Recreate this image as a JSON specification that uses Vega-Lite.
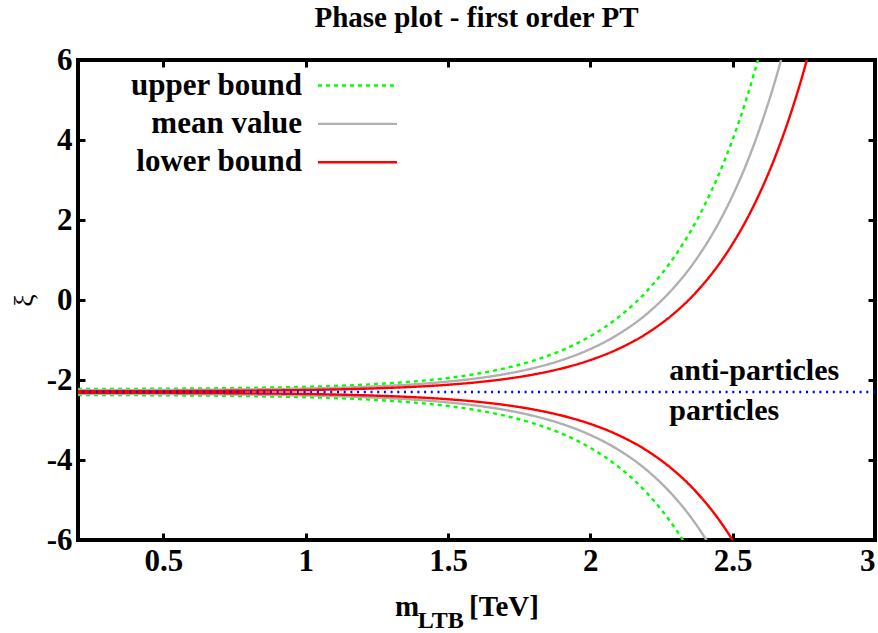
{
  "$schema": "https://vega.github.io/schema/vega-lite/v6.json",
  "width": 797,
  "height": 480,
  "autosize": {"type": "none"},
  "padding": {"left": 78, "top": 60, "right": 3, "bottom": 93},
  "background": "white",
  "title": {"text": "Phase plot - first order PT", "font": "Liberation Serif", "fontSize": 29, "fontWeight": "bold", "color": "black", "anchor": "middle", "frame": "group", "offset": 11},
  "config": {
    "view": {"stroke": "black", "strokeWidth": 4},
    "axis": {"domain": false, "grid": false, "ticks": true, "tickSize": -7, "tickWidth": 3, "tickColor": "black", "labelFont": "Liberation Serif", "labelFontSize": 31, "labelFontWeight": "bold", "labelColor": "black", "labelPadding": 13, "labelFlush": false, "labelOverlap": false, "labelExpr": "toString(datum.value)", "titleFont": "Liberation Serif", "titleColor": "black"}
  },
  "datasets": {
    "curves": [
      {"s": "upper bound", "b": "up", "x": 0.2, "y": -2.225}, {"s": "upper bound", "b": "up", "x": 0.4, "y": -2.221}, {"s": "upper bound", "b": "up", "x": 0.6, "y": -2.213}, {"s": "upper bound", "b": "up", "x": 0.8, "y": -2.198}, {"s": "upper bound", "b": "up", "x": 1.0, "y": -2.17}, {"s": "upper bound", "b": "up", "x": 1.2, "y": -2.119}, {"s": "upper bound", "b": "up", "x": 1.4, "y": -2.024}, {"s": "upper bound", "b": "up", "x": 1.5, "y": -1.949}, {"s": "upper bound", "b": "up", "x": 1.6, "y": -1.846}, {"s": "upper bound", "b": "up", "x": 1.7, "y": -1.707}, {"s": "upper bound", "b": "up", "x": 1.8, "y": -1.517}, {"s": "upper bound", "b": "up", "x": 1.9, "y": -1.258}, {"s": "upper bound", "b": "up", "x": 2.0, "y": -0.905}, {"s": "upper bound", "b": "up", "x": 2.1, "y": -0.423}, {"s": "upper bound", "b": "up", "x": 2.2, "y": 0.234}, {"s": "upper bound", "b": "up", "x": 2.3, "y": 1.13}, {"s": "upper bound", "b": "up", "x": 2.35, "y": 1.692}, {"s": "upper bound", "b": "up", "x": 2.4, "y": 2.351}, {"s": "upper bound", "b": "up", "x": 2.45, "y": 3.118}, {"s": "upper bound", "b": "up", "x": 2.5, "y": 4.016}, {"s": "upper bound", "b": "up", "x": 2.55, "y": 5.063}, {"s": "upper bound", "b": "up", "x": 2.6, "y": 6.287},
      {"s": "upper bound", "b": "lo", "x": 0.2, "y": -2.375}, {"s": "upper bound", "b": "lo", "x": 0.4, "y": -2.379}, {"s": "upper bound", "b": "lo", "x": 0.6, "y": -2.387}, {"s": "upper bound", "b": "lo", "x": 0.8, "y": -2.402}, {"s": "upper bound", "b": "lo", "x": 1.0, "y": -2.43}, {"s": "upper bound", "b": "lo", "x": 1.2, "y": -2.481}, {"s": "upper bound", "b": "lo", "x": 1.4, "y": -2.576}, {"s": "upper bound", "b": "lo", "x": 1.5, "y": -2.651}, {"s": "upper bound", "b": "lo", "x": 1.6, "y": -2.754}, {"s": "upper bound", "b": "lo", "x": 1.7, "y": -2.893}, {"s": "upper bound", "b": "lo", "x": 1.8, "y": -3.083}, {"s": "upper bound", "b": "lo", "x": 1.9, "y": -3.342}, {"s": "upper bound", "b": "lo", "x": 2.0, "y": -3.695}, {"s": "upper bound", "b": "lo", "x": 2.1, "y": -4.177}, {"s": "upper bound", "b": "lo", "x": 2.2, "y": -4.834}, {"s": "upper bound", "b": "lo", "x": 2.3, "y": -5.73}, {"s": "upper bound", "b": "lo", "x": 2.35, "y": -6.292},
      {"s": "mean value", "b": "up", "x": 0.2, "y": -2.256}, {"s": "mean value", "b": "up", "x": 0.4, "y": -2.253}, {"s": "mean value", "b": "up", "x": 0.6, "y": -2.247}, {"s": "mean value", "b": "up", "x": 0.8, "y": -2.235}, {"s": "mean value", "b": "up", "x": 1.0, "y": -2.213}, {"s": "mean value", "b": "up", "x": 1.2, "y": -2.173}, {"s": "mean value", "b": "up", "x": 1.4, "y": -2.099}, {"s": "mean value", "b": "up", "x": 1.5, "y": -2.04}, {"s": "mean value", "b": "up", "x": 1.6, "y": -1.96}, {"s": "mean value", "b": "up", "x": 1.7, "y": -1.852}, {"s": "mean value", "b": "up", "x": 1.8, "y": -1.703}, {"s": "mean value", "b": "up", "x": 1.9, "y": -1.501}, {"s": "mean value", "b": "up", "x": 2.0, "y": -1.225}, {"s": "mean value", "b": "up", "x": 2.1, "y": -0.849}, {"s": "mean value", "b": "up", "x": 2.2, "y": -0.337}, {"s": "mean value", "b": "up", "x": 2.3, "y": 0.363}, {"s": "mean value", "b": "up", "x": 2.35, "y": 0.8}, {"s": "mean value", "b": "up", "x": 2.4, "y": 1.316}, {"s": "mean value", "b": "up", "x": 2.45, "y": 1.915}, {"s": "mean value", "b": "up", "x": 2.5, "y": 2.616}, {"s": "mean value", "b": "up", "x": 2.55, "y": 3.43}, {"s": "mean value", "b": "up", "x": 2.6, "y": 4.39}, {"s": "mean value", "b": "up", "x": 2.65, "y": 5.5}, {"s": "mean value", "b": "up", "x": 2.7, "y": 6.8},
      {"s": "mean value", "b": "lo", "x": 0.2, "y": -2.344}, {"s": "mean value", "b": "lo", "x": 0.4, "y": -2.347}, {"s": "mean value", "b": "lo", "x": 0.6, "y": -2.353}, {"s": "mean value", "b": "lo", "x": 0.8, "y": -2.365}, {"s": "mean value", "b": "lo", "x": 1.0, "y": -2.387}, {"s": "mean value", "b": "lo", "x": 1.2, "y": -2.427}, {"s": "mean value", "b": "lo", "x": 1.4, "y": -2.501}, {"s": "mean value", "b": "lo", "x": 1.5, "y": -2.56}, {"s": "mean value", "b": "lo", "x": 1.6, "y": -2.64}, {"s": "mean value", "b": "lo", "x": 1.7, "y": -2.748}, {"s": "mean value", "b": "lo", "x": 1.8, "y": -2.897}, {"s": "mean value", "b": "lo", "x": 1.9, "y": -3.099}, {"s": "mean value", "b": "lo", "x": 2.0, "y": -3.375}, {"s": "mean value", "b": "lo", "x": 2.1, "y": -3.751}, {"s": "mean value", "b": "lo", "x": 2.2, "y": -4.263}, {"s": "mean value", "b": "lo", "x": 2.3, "y": -4.963}, {"s": "mean value", "b": "lo", "x": 2.35, "y": -5.4}, {"s": "mean value", "b": "lo", "x": 2.4, "y": -5.916}, {"s": "mean value", "b": "lo", "x": 2.45, "y": -6.515},
      {"s": "lower bound", "b": "up", "x": 0.2, "y": -2.282}, {"s": "lower bound", "b": "up", "x": 0.4, "y": -2.28}, {"s": "lower bound", "b": "up", "x": 0.6, "y": -2.275}, {"s": "lower bound", "b": "up", "x": 0.8, "y": -2.266}, {"s": "lower bound", "b": "up", "x": 1.0, "y": -2.25}, {"s": "lower bound", "b": "up", "x": 1.2, "y": -2.219}, {"s": "lower bound", "b": "up", "x": 1.4, "y": -2.163}, {"s": "lower bound", "b": "up", "x": 1.5, "y": -2.119}, {"s": "lower bound", "b": "up", "x": 1.6, "y": -2.058}, {"s": "lower bound", "b": "up", "x": 1.7, "y": -1.976}, {"s": "lower bound", "b": "up", "x": 1.8, "y": -1.863}, {"s": "lower bound", "b": "up", "x": 1.9, "y": -1.71}, {"s": "lower bound", "b": "up", "x": 2.0, "y": -1.502}, {"s": "lower bound", "b": "up", "x": 2.1, "y": -1.217}, {"s": "lower bound", "b": "up", "x": 2.2, "y": -0.829}, {"s": "lower bound", "b": "up", "x": 2.3, "y": -0.299}, {"s": "lower bound", "b": "up", "x": 2.35, "y": 0.033}, {"s": "lower bound", "b": "up", "x": 2.4, "y": 0.423}, {"s": "lower bound", "b": "up", "x": 2.45, "y": 0.876}, {"s": "lower bound", "b": "up", "x": 2.5, "y": 1.407}, {"s": "lower bound", "b": "up", "x": 2.55, "y": 2.025}, {"s": "lower bound", "b": "up", "x": 2.6, "y": 2.749}, {"s": "lower bound", "b": "up", "x": 2.65, "y": 3.593}, {"s": "lower bound", "b": "up", "x": 2.7, "y": 4.577}, {"s": "lower bound", "b": "up", "x": 2.75, "y": 5.729}, {"s": "lower bound", "b": "up", "x": 2.8, "y": 7.071},
      {"s": "lower bound", "b": "lo", "x": 0.2, "y": -2.318}, {"s": "lower bound", "b": "lo", "x": 0.4, "y": -2.32}, {"s": "lower bound", "b": "lo", "x": 0.6, "y": -2.325}, {"s": "lower bound", "b": "lo", "x": 0.8, "y": -2.334}, {"s": "lower bound", "b": "lo", "x": 1.0, "y": -2.35}, {"s": "lower bound", "b": "lo", "x": 1.2, "y": -2.381}, {"s": "lower bound", "b": "lo", "x": 1.4, "y": -2.437}, {"s": "lower bound", "b": "lo", "x": 1.5, "y": -2.481}, {"s": "lower bound", "b": "lo", "x": 1.6, "y": -2.542}, {"s": "lower bound", "b": "lo", "x": 1.7, "y": -2.624}, {"s": "lower bound", "b": "lo", "x": 1.8, "y": -2.737}, {"s": "lower bound", "b": "lo", "x": 1.9, "y": -2.89}, {"s": "lower bound", "b": "lo", "x": 2.0, "y": -3.098}, {"s": "lower bound", "b": "lo", "x": 2.1, "y": -3.383}, {"s": "lower bound", "b": "lo", "x": 2.2, "y": -3.771}, {"s": "lower bound", "b": "lo", "x": 2.3, "y": -4.301}, {"s": "lower bound", "b": "lo", "x": 2.35, "y": -4.633}, {"s": "lower bound", "b": "lo", "x": 2.4, "y": -5.023}, {"s": "lower bound", "b": "lo", "x": 2.45, "y": -5.476}, {"s": "lower bound", "b": "lo", "x": 2.5, "y": -6.007}, {"s": "lower bound", "b": "lo", "x": 2.55, "y": -6.625}
    ],
    "notes": [
      {"t": "anti-particles", "x": 2.277, "y": -2.0},
      {"t": "particles", "x": 2.277, "y": -3.0}
    ],
    "xtitle": [
      {"t": "m", "x": 1.314, "y": -7.9},
      {"t": "[TeV]", "x": 1.574, "y": -7.9}
    ],
    "xsub": [
      {"t": "LTB", "x": 1.394, "y": -8.2}
    ]
  },
  "layer": [
    {
      "data": {"name": "curves"},
      "mark": {"type": "line", "clip": true, "strokeWidth": 2.4, "interpolate": "monotone"},
      "encoding": {
        "x": {"field": "x", "type": "quantitative", "scale": {"domain": [0.2, 3], "nice": false, "zero": false}, "axis": {"values": [0.5, 1, 1.5, 2, 2.5, 3], "title": null, "labelFlush": true}},
        "y": {"field": "y", "type": "quantitative", "scale": {"domain": [-6, 6], "nice": false, "zero": false}, "axis": {"values": [-6, -4, -2, 0, 2, 4, 6], "title": "ξ", "titleFontSize": 28, "titleFontWeight": "normal", "titlePadding": 8}},
        "detail": {"field": "b"},
        "color": {"field": "s", "type": "nominal", "scale": {"domain": ["upper bound", "mean value", "lower bound"], "range": ["#00ff00", "#b0b0b0", "#ff0000"]},
          "legend": {"orient": "none", "legendX": 262, "legendY": 8, "title": null, "symbolType": "M-2.5,0H2.5", "symbolSize": 1000, "symbolStrokeWidth": 2.4, "labelAlign": "right", "labelOffset": -73, "labelBaseline": "middle", "labelFont": "Liberation Serif", "labelFontSize": 31, "labelFontWeight": "bold", "labelColor": "black", "labelLimit": 400, "rowPadding": 5.4, "padding": 0}},
        "strokeDash": {"field": "s", "type": "nominal", "scale": {"domain": ["upper bound", "mean value", "lower bound"], "range": [[4, 4], [1, 0], [1, 0]]}, "legend": null}
      }
    },
    {
      "data": {"values": [{"y": -2.3}]},
      "mark": {"type": "rule", "color": "#0000ff", "strokeWidth": 2.4, "strokeDash": [2, 4.7]},
      "encoding": {"y": {"field": "y", "type": "quantitative", "axis": null}}
    },
    {
      "data": {"name": "notes"},
      "mark": {"type": "text", "align": "left", "baseline": "alphabetic", "font": "Liberation Serif", "fontSize": 30, "fontWeight": "bold", "color": "black"},
      "encoding": {
        "x": {"field": "x", "type": "quantitative", "axis": {"orient": "top", "values": [0.5, 1, 1.5, 2, 2.5, 3], "labels": false, "title": null}},
        "y": {"field": "y", "type": "quantitative", "axis": {"orient": "right", "values": [-6, -4, -2, 0, 2, 4, 6], "labels": false, "title": null}},
        "text": {"field": "t"}
      }
    },
    {
      "data": {"name": "xtitle"},
      "mark": {"type": "text", "align": "left", "baseline": "alphabetic", "font": "Liberation Serif", "fontSize": 29, "fontWeight": "bold", "color": "black", "clip": false},
      "encoding": {
        "x": {"field": "x", "type": "quantitative", "axis": null},
        "y": {"field": "y", "type": "quantitative", "axis": null},
        "text": {"field": "t"}
      }
    },
    {
      "data": {"name": "xsub"},
      "mark": {"type": "text", "align": "left", "baseline": "alphabetic", "font": "Liberation Serif", "fontSize": 24, "fontWeight": "bold", "color": "black", "clip": false},
      "encoding": {
        "x": {"field": "x", "type": "quantitative", "axis": null},
        "y": {"field": "y", "type": "quantitative", "axis": null},
        "text": {"field": "t"}
      }
    }
  ],
  "resolve": {"axis": {"x": "independent", "y": "independent"}}
}
